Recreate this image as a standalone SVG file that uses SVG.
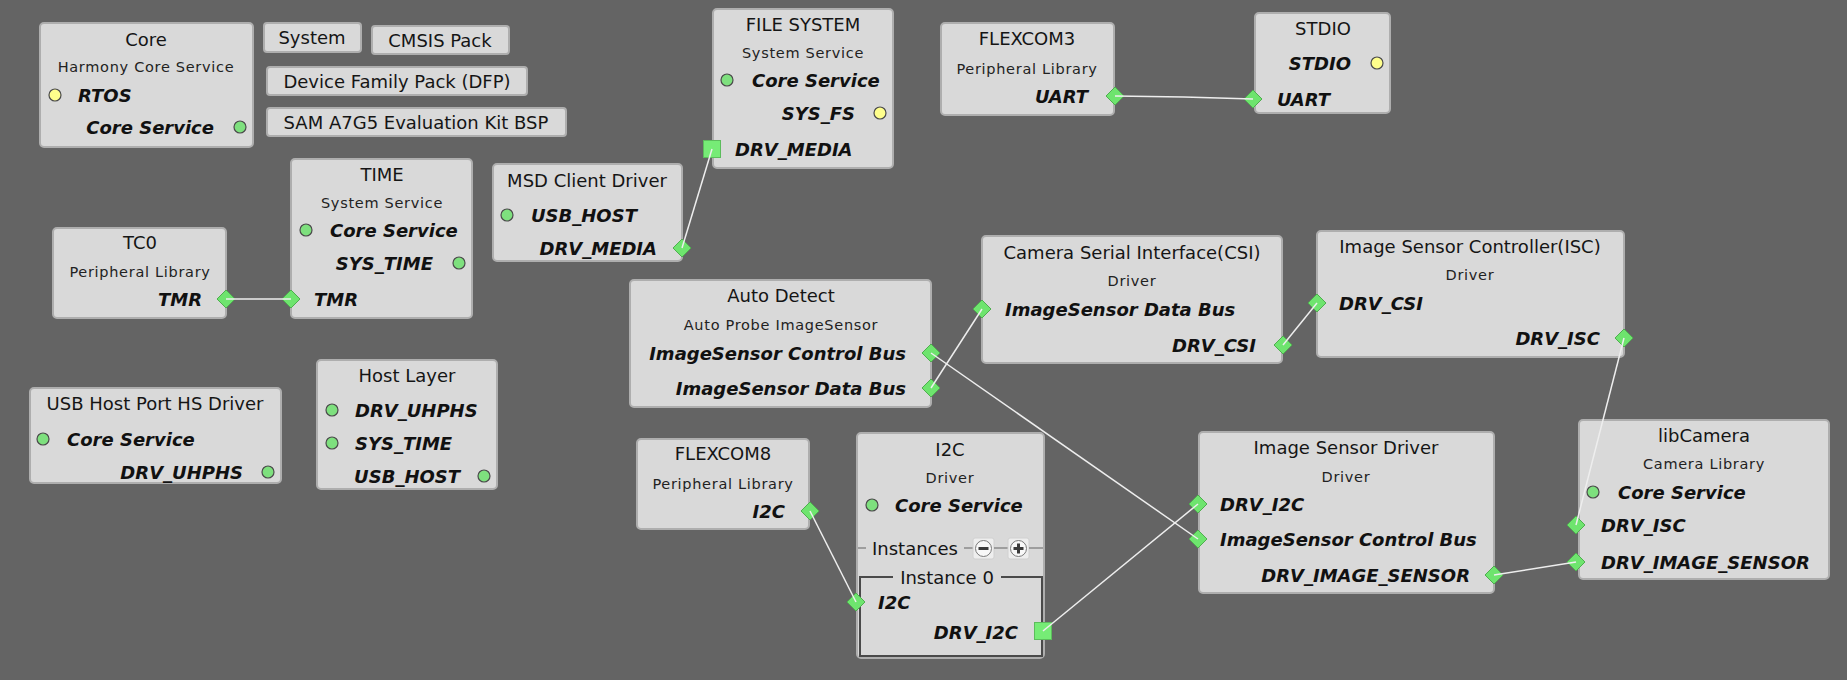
<svg xmlns="http://www.w3.org/2000/svg" width="1847" height="680" viewBox="0 0 1847 680">
<defs>
<style>
.bg{fill:#646464}
.box{fill:#d9d9d9;stroke:#aeaeae;stroke-width:2}
.t{font-family:"DejaVu Sans",Verdana,sans-serif;font-size:18px;fill:#151515;text-anchor:middle}
.s{font-family:"DejaVu Sans",Verdana,sans-serif;font-size:14.5px;letter-spacing:0.7px;fill:#222;text-anchor:middle}
.p{font-family:"DejaVu Sans",Verdana,sans-serif;font-size:18px;font-weight:bold;font-style:italic;fill:#111}
.e{text-anchor:end}
.dg{fill:#6ee46e;stroke:#4fae4f;stroke-width:1}
.sq{fill:#76ec76;stroke:#5cbc5c;stroke-width:1}
.cg{fill:#7ee07e;stroke:#4a4a4a;stroke-width:1.2}
.cy{fill:#ffff8c;stroke:#4a4a4a;stroke-width:1.2}
.ln{stroke:#eeeeee;stroke-width:1.5;fill:none}
.gl{stroke:#8a8a8a;stroke-width:1.5;fill:none}
.btn{fill:#eeeeee;stroke:#d0d0d0;stroke-width:1}
</style>
</defs>
<rect class="bg" x="0" y="0" width="1847" height="680"/>

<g id="core">
<rect class="box" x="40" y="23" width="213" height="124" rx="4"/>
<text class="t" x="146" y="46">Core</text>
<text class="s" x="146" y="72">Harmony Core Service</text>
<circle class="cy" cx="55" cy="95" r="6"/>
<text class="p" x="78" y="101.5">RTOS</text>
<text class="p e" x="214" y="133.5">Core Service</text>
<circle class="cg" cx="240" cy="127" r="6"/>
</g>

<g id="system">
<rect class="box" x="264" y="23" width="97" height="29" rx="3"/>
<text class="t" x="312" y="44">System</text>
</g>
<g id="cmsis">
<rect class="box" x="372" y="26" width="137" height="28" rx="3"/>
<text class="t" x="440" y="46.5">CMSIS Pack</text>
</g>
<g id="dfp">
<rect class="box" x="267" y="67" width="260" height="28" rx="3"/>
<text class="t" x="397" y="87.5">Device Family Pack (DFP)</text>
</g>
<g id="bsp">
<rect class="box" x="267" y="108" width="299" height="28" rx="3"/>
<text class="t" x="416" y="128.5">SAM A7G5 Evaluation Kit BSP</text>
</g>

<g id="tc0">
<rect class="box" x="53" y="228" width="173" height="90" rx="4"/>
<text class="t" x="140" y="248.5">TC0</text>
<text class="s" x="140" y="276.5">Peripheral Library</text>
<text class="p e" x="202" y="305.5">TMR</text>
<polygon class="dg" points="226,290 235,299 226,308 217,299"/>
</g>

<g id="time">
<rect class="box" x="291" y="159" width="181" height="159" rx="4"/>
<text class="t" x="382" y="180.5">TIME</text>
<text class="s" x="382" y="207.5">System Service</text>
<circle class="cg" cx="306" cy="230" r="6"/>
<text class="p" x="330" y="236.5">Core Service</text>
<text class="p e" x="433" y="269.5">SYS_TIME</text>
<circle class="cg" cx="459" cy="263" r="6"/>
<polygon class="dg" points="291,290 300,299 291,308 282,299"/>
<text class="p" x="314" y="305.5">TMR</text>
</g>

<g id="usbhs">
<rect class="box" x="30" y="388" width="251" height="95" rx="4"/>
<text class="t" x="155" y="409.5">USB Host Port HS Driver</text>
<circle class="cg" cx="43" cy="439" r="6"/>
<text class="p" x="67" y="445.5">Core Service</text>
<text class="p e" x="243" y="478.5">DRV_UHPHS</text>
<circle class="cg" cx="268" cy="472" r="6"/>
</g>

<g id="hostlayer">
<rect class="box" x="317" y="360" width="180" height="129" rx="4"/>
<text class="t" x="407" y="381.5">Host Layer</text>
<circle class="cg" cx="332" cy="410" r="6"/>
<text class="p" x="355" y="416.5">DRV_UHPHS</text>
<circle class="cg" cx="332" cy="443" r="6"/>
<text class="p" x="355" y="449.5">SYS_TIME</text>
<text class="p e" x="460" y="482.5">USB_HOST</text>
<circle class="cg" cx="484" cy="476" r="6"/>
</g>

<g id="filesystem">
<rect class="box" x="713" y="9" width="180" height="159" rx="4"/>
<text class="t" x="803" y="30.5">FILE SYSTEM</text>
<text class="s" x="803" y="57.5">System Service</text>
<circle class="cg" cx="727" cy="80" r="6"/>
<text class="p" x="752" y="86.5">Core Service</text>
<text class="p e" x="855" y="119.5">SYS_FS</text>
<circle class="cy" cx="880" cy="113" r="6"/>
<rect class="sq" x="703.5" y="140.5" width="17" height="17"/>
<text class="p" x="735" y="155.5">DRV_MEDIA</text>
</g>

<g id="msd">
<rect class="box" x="493" y="164" width="189" height="97" rx="4"/>
<text class="t" x="587" y="186.5">MSD Client Driver</text>
<circle class="cg" cx="507" cy="215" r="6"/>
<text class="p" x="531" y="221.5">USB_HOST</text>
<text class="p e" x="657" y="254.5">DRV_MEDIA</text>
<polygon class="dg" points="682,239 691,248 682,257 673,248"/>
</g>

<g id="flexcom3">
<rect class="box" x="941" y="23" width="173" height="92" rx="4"/>
<text class="t" x="1027" y="44.5">FLEXCOM3</text>
<text class="s" x="1027" y="73.5">Peripheral Library</text>
<text class="p e" x="1088" y="102.5">UART</text>
<polygon class="dg" points="1115,87 1124,96 1115,105 1106,96"/>
</g>

<g id="stdio">
<rect class="box" x="1255" y="13" width="135" height="100" rx="4"/>
<text class="t" x="1323" y="34.5">STDIO</text>
<text class="p e" x="1351" y="69.5">STDIO</text>
<circle class="cy" cx="1377" cy="63" r="6"/>
<polygon class="dg" points="1253,90 1262,99 1253,108 1244,99"/>
<text class="p" x="1277" y="105.5">UART</text>
</g>

<g id="autodetect">
<rect class="box" x="630" y="280" width="301" height="127" rx="4"/>
<text class="t" x="781" y="301.5">Auto Detect</text>
<text class="s" x="781" y="329.5">Auto Probe ImageSensor</text>
<text class="p e" x="906" y="359.5">ImageSensor Control Bus</text>
<polygon class="dg" points="931,344 940,353 931,362 922,353"/>
<text class="p e" x="906" y="394.5">ImageSensor Data Bus</text>
<polygon class="dg" points="931,379 940,388 931,397 922,388"/>
</g>

<g id="csi">
<rect class="box" x="982" y="236" width="300" height="127" rx="4"/>
<text class="t" x="1132" y="258.5">Camera Serial Interface(CSI)</text>
<text class="s" x="1132" y="285.5">Driver</text>
<polygon class="dg" points="982,300 991,309 982,318 973,309"/>
<text class="p" x="1005" y="315.5">ImageSensor Data Bus</text>
<text class="p e" x="1256" y="351.5">DRV_CSI</text>
<polygon class="dg" points="1283,336 1292,345 1283,354 1274,345"/>
</g>

<g id="isc">
<rect class="box" x="1317" y="231" width="307" height="126" rx="4"/>
<text class="t" x="1470" y="252.5">Image Sensor Controller(ISC)</text>
<text class="s" x="1470" y="279.5">Driver</text>
<polygon class="dg" points="1317,294 1326,303 1317,312 1308,303"/>
<text class="p" x="1339" y="309.5">DRV_CSI</text>
<text class="p e" x="1600" y="344.5">DRV_ISC</text>
<polygon class="dg" points="1624,329 1633,338 1624,347 1615,338"/>
</g>

<g id="flexcom8">
<rect class="box" x="637" y="439" width="172" height="90" rx="4"/>
<text class="t" x="723" y="459.5">FLEXCOM8</text>
<text class="s" x="723" y="488.5">Peripheral Library</text>
<text class="p e" x="785" y="517.5">I2C</text>
<polygon class="dg" points="810,502 819,511 810,520 801,511"/>
</g>

<g id="i2c">
<rect class="box" x="857" y="433" width="187" height="225" rx="4"/>
<text class="t" x="950" y="455.5">I2C</text>
<text class="s" x="950" y="482.5">Driver</text>
<circle class="cg" cx="872" cy="505" r="6"/>
<text class="p" x="895" y="511.5">Core Service</text>
<line class="gl" x1="858" y1="548" x2="866" y2="548"/>
<text class="t" x="915" y="554.5">Instances</text>
<line class="gl" x1="964" y1="548" x2="973" y2="548"/>
<rect class="btn" x="973" y="538" width="21" height="21" rx="2"/>
<circle cx="983.5" cy="548.5" r="8" fill="#f8f8f8" stroke="#7a7a7a" stroke-width="1"/>
<line x1="978.5" y1="548.5" x2="988.5" y2="548.5" stroke="#3a3a3a" stroke-width="3"/>
<line class="gl" x1="994" y1="548" x2="1008" y2="548"/>
<rect class="btn" x="1008" y="538" width="21" height="21" rx="2"/>
<circle cx="1018.5" cy="548.5" r="8" fill="#f8f8f8" stroke="#7a7a7a" stroke-width="1"/>
<line x1="1013.5" y1="548.5" x2="1023.5" y2="548.5" stroke="#3a3a3a" stroke-width="3"/>
<line x1="1018.5" y1="543.5" x2="1018.5" y2="553.5" stroke="#3a3a3a" stroke-width="3"/>
<line class="gl" x1="1029" y1="548" x2="1043" y2="548"/>
<polyline points="893,577 860,577 860,656 1042,656 1042,577 1001,577" fill="none" stroke="#4a4a4a" stroke-width="2"/>
<text class="t" x="947" y="583.5">Instance 0</text>
<polygon class="dg" points="856,593 865,602 856,611 847,602"/>
<text class="p" x="878" y="608.5">I2C</text>
<text class="p e" x="1018" y="638.5">DRV_I2C</text>
<rect class="sq" x="1034.5" y="622.5" width="17" height="17"/>
</g>

<g id="imagesensordriver">
<rect class="box" x="1199" y="432" width="295" height="161" rx="4"/>
<text class="t" x="1346" y="453.5">Image Sensor Driver</text>
<text class="s" x="1346" y="481.5">Driver</text>
<polygon class="dg" points="1198,495 1207,504 1198,513 1189,504"/>
<text class="p" x="1220" y="510.5">DRV_I2C</text>
<polygon class="dg" points="1198,530 1207,539 1198,548 1189,539"/>
<text class="p" x="1220" y="545.5">ImageSensor Control Bus</text>
<text class="p e" x="1470" y="581.5">DRV_IMAGE_SENSOR</text>
<polygon class="dg" points="1494,566 1503,575 1494,584 1485,575"/>
</g>

<g id="libcamera">
<rect class="box" x="1579" y="420" width="250" height="159" rx="4"/>
<text class="t" x="1704" y="441.5">libCamera</text>
<text class="s" x="1704" y="468.5">Camera Library</text>
<circle class="cg" cx="1593" cy="492" r="6"/>
<text class="p" x="1618" y="498.5">Core Service</text>
<polygon class="dg" points="1576,516 1585,525 1576,534 1567,525"/>
<text class="p" x="1601" y="531.5">DRV_ISC</text>
<polygon class="dg" points="1576,553 1585,562 1576,571 1567,562"/>
<text class="p" x="1601" y="568.5">DRV_IMAGE_SENSOR</text>
</g>

<g id="connectors">
<line class="ln" x1="226" y1="299" x2="291" y2="299"/>
<line class="ln" x1="682" y1="248" x2="712" y2="149"/>
<polyline class="ln" points="1115,96 1184,97 1253,99"/>
<line class="ln" x1="931" y1="388" x2="982" y2="309"/>
<line class="ln" x1="1283" y1="345" x2="1317" y2="303"/>
<line class="ln" x1="1624" y1="338" x2="1576" y2="525"/>
<line class="ln" x1="1494" y1="575" x2="1576" y2="562"/>
<line class="ln" x1="931" y1="353" x2="1198" y2="539"/>
<line class="ln" x1="810" y1="511" x2="856" y2="602"/>
<line class="ln" x1="1043" y1="631" x2="1198" y2="504"/>
</g>
</svg>
